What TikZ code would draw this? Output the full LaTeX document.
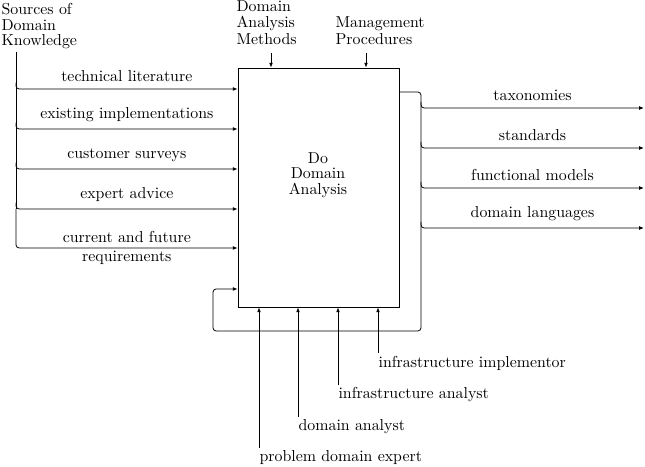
\documentclass[tikz,border=0pt]{standalone}
\usepackage{tikz}
\usetikzlibrary{arrows.meta, calc}
\usepackage{amsmath}

\begin{document}
\begin{tikzpicture}[x=0.63pt,y=0.63pt,yscale=-1,xscale=1,
  line width=0.5pt,
  feed/.style={-{Latex[length=3pt,width=2.4pt]}, rounded corners=2pt},
  lbl/.style={inner sep=0.75pt},
  tight/.style={align=left, font=\linespread{0.8}\selectfont}]
\useasboundingbox (0,0) rectangle (645,467);

%Shape: Rectangle [id:analysis]
\node [draw, minimum width=101.4pt, minimum height=150.6pt, inner sep=0pt] (analysis) at (318.5,187.5) {};
% Text Node
\node [tight, align=center] (analysistext) at (318,175) {Do\\Domain\\Analysis};

%Inputs from the left
\coordinate (src) at (16,52);
\foreach \y/\n in {89/1,129/2,169/3,209/4,248/5} \coordinate (in\n) at (16,\y);
\draw (src) -- (in4);
\foreach \n/\txt in {1/technical literature, 2/existing implementations, 3/customer surveys, 4/expert advice}
  \draw [feed] ($(in\n)+(0,-6)$) |- (in\n -| analysis.west) node [pos=0.75, above=1pt] {\txt};
\draw [feed] (in4) |- (in5 -| analysis.west) node [pos=0.75, align=center] {current and future\\requirements};
% Text Node
\node [lbl, tight, anchor=north west] (sourcestext) at (0,2) {Sources of\\Domain\\Knowledge};

%Controls from the top
\coordinate (methods) at (271,53);
\coordinate (procedures) at (366,53);
\draw [feed] (methods) -- (methods |- analysis.north);
\draw [feed] (procedures) -- (procedures |- analysis.north);
% Text Node
\node [lbl, align=left, font=\linespread{0.87}\selectfont, anchor=south west] (methodstext) at (235,46) {Domain\\Analysis\\Methods};
% Text Node
\node [lbl, align=left, font=\linespread{0.87}\selectfont, anchor=south west] (procedurestext) at (334,46) {Management\\Procedures};

%Outputs and feedback loop
\coordinate (rtop) at (421,92);
\coordinate (rbot) at (421,331);
\coordinate (lbot) at (213,331);
\coordinate (lfb) at (213,289);
\draw [feed] (analysis.east |- rtop) -- (rtop) -- (rbot) -- (lbot) -- (lfb) -- (lfb -| analysis.west);
\foreach \y/\n/\txt in {108/1/taxonomies, 148/2/standards, 188/3/functional models, 228/4/domain languages} {
  \coordinate (out\n) at (421,\y);
  \coordinate (sink\n) at (644,\y);
  \draw [feed] ($(out\n)+(0,-6)$) |- (sink\n) node [pos=0.75, above=1pt] {\txt};
}

%Mechanisms from the bottom
\foreach \x/\yend/\n/\txt in {259/448/1/problem domain expert, 298/417/2/domain analyst, 338/385/3/infrastructure analyst, 378/353/4/infrastructure implementor} {
  \coordinate (mech\n) at (\x,\yend);
  \draw [feed] (mech\n) -- (mech\n |- analysis.south);
  \node [lbl, anchor=west] (mechtext\n) at ($(mech\n)+(-1,10)$) {\txt};
}

\end{tikzpicture}
\end{document}
